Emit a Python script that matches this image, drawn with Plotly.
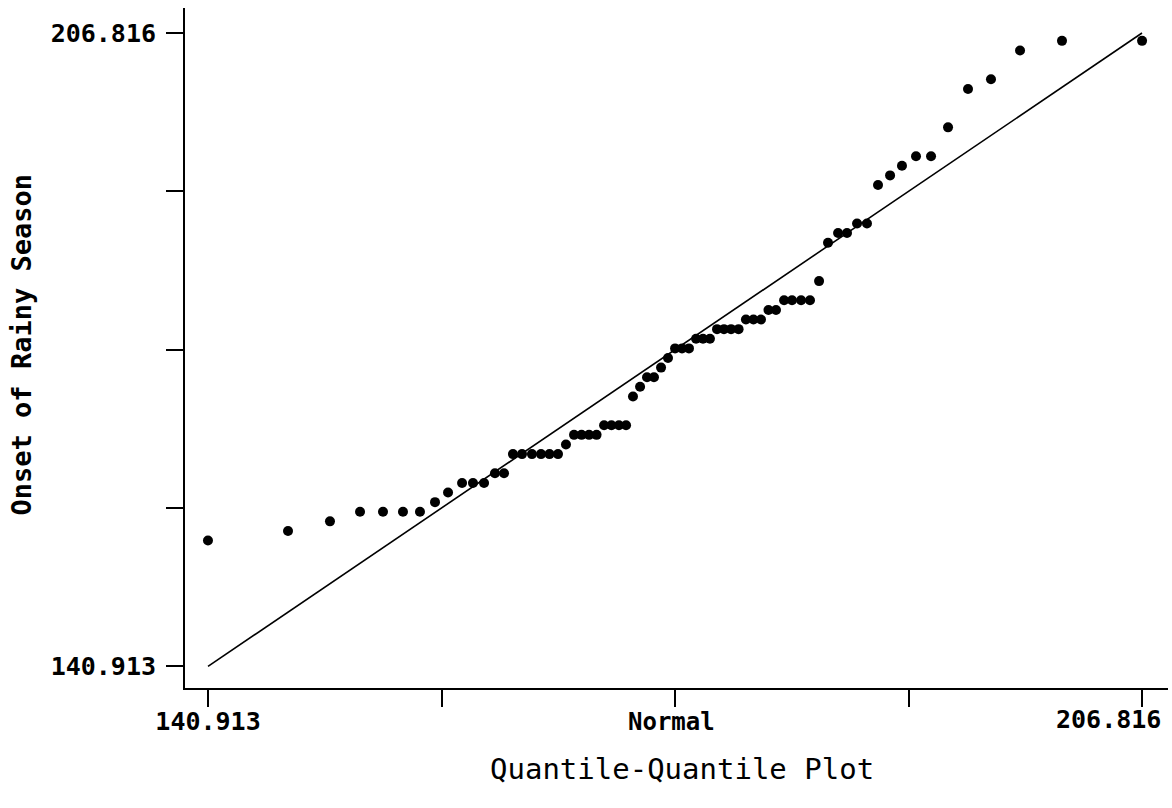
import plotly.graph_objects as go

# Normal quantiles (x) and sorted observations (y)
normal_q = [140.91, 146.56, 149.52, 151.64, 153.26, 154.67, 155.87, 156.93, 157.85, 158.84,
            159.61, 160.39, 161.16, 161.80, 162.43, 163.07, 163.77, 164.41, 165.01, 165.61,
            166.17, 166.74, 167.27, 167.80, 168.33, 168.86, 169.38, 169.91, 170.41, 170.90,
            171.40, 171.89, 172.38, 172.88, 173.37, 173.87, 174.36, 174.85, 175.35, 175.84,
            176.33, 176.83, 177.32, 177.82, 178.35, 178.87, 179.40, 179.93, 180.46, 180.99,
            181.56, 182.12, 182.76, 183.39, 184.03, 184.66, 185.37, 186.00, 186.71, 187.41,
            188.19, 189.04, 189.88, 190.87, 191.93, 193.13, 194.54, 196.16, 198.21, 201.17,
            206.82]
onset = [154, 155, 156, 157, 157, 157, 157, 158, 159, 160,
         160, 160, 161, 161, 163, 163, 163, 163, 163, 163,
         164, 165, 165, 165, 165, 166, 166, 166, 166, 169,
         170, 171, 171, 172, 173, 174, 174, 174, 175, 175,
         175, 176, 176, 176, 176, 177, 177, 177, 178, 178,
         179, 179, 179, 179, 181, 185, 186, 186, 187, 187,
         191, 192, 193, 194, 194, 197, 201, 202, 205, 206,
         206]

ref_line = [140.913, 206.816]
tick_vals = [140.913, 157.389, 173.865, 190.340, 206.816]
x_tick_text = ["140.913", "", "", "", ""]
x_end_label = "206.816"
y_tick_text = ["140.913", "", "", "", "206.816"]

x_range = [139.29, 208.65]
y_range = [138.66, 209.42]

mono = "DejaVu Sans Mono"
tick_font = dict(family=mono, size=25, color="black", weight="bold")

fig = go.Figure()
fig.add_trace(go.Scatter(x=ref_line, y=ref_line, mode="lines",
                         line=dict(color="black", width=1.6), showlegend=False,
                         hoverinfo="skip"))
fig.add_trace(go.Scatter(x=normal_q, y=onset, mode="markers",
                         marker=dict(color="black", size=10, line=dict(width=0)),
                         showlegend=False))

axis_common = dict(showline=True, linecolor="black", linewidth=2, ticks="outside",
                   ticklen=17, tickwidth=2, tickcolor="black", showgrid=False,
                   zeroline=False, tickmode="array", tickvals=tick_vals,
                   automargin=False, tickfont=tick_font)

fig.update_xaxes(range=x_range, ticktext=x_tick_text, ticklabelstandoff=-7,
                 **axis_common)
fig.update_yaxes(range=y_range, ticktext=y_tick_text, ticklabelstandoff=5,
                 **axis_common)

fig.update_layout(
    width=1172, height=808,
    margin=dict(l=185, r=4, t=8, b=120, autoexpand=False),
    plot_bgcolor="white", paper_bgcolor="white",
    annotations=[
        dict(text=x_end_label, x=tick_vals[-1], y=-0.047, xref="x", yref="paper",
             xanchor="right", yanchor="middle", xshift=21, showarrow=False,
             font=tick_font),
        dict(text="Normal", x=0.4954, y=-0.05, xref="paper", yref="paper",
             xanchor="center", yanchor="middle", showarrow=False,
             font=dict(family=mono, size=24, color="black", weight="bold")),
        dict(text="Quantile-Quantile Plot", x=0.5056, y=-0.119, xref="paper", yref="paper",
             xanchor="center", yanchor="middle", showarrow=False,
             font=dict(family=mono, size=29, color="black")),
        dict(text="Onset of Rainy Season", x=-0.166, y=0.505, xref="paper", yref="paper",
             xanchor="center", yanchor="middle", showarrow=False, textangle=-90,
             font=dict(family=mono, size=27, color="black", weight="bold")),
    ],
)

fig.write_html("out.html", config={"displayModeBar": False},
               post_script="document.body.style.margin='0';document.body.style.overflow='hidden';")
